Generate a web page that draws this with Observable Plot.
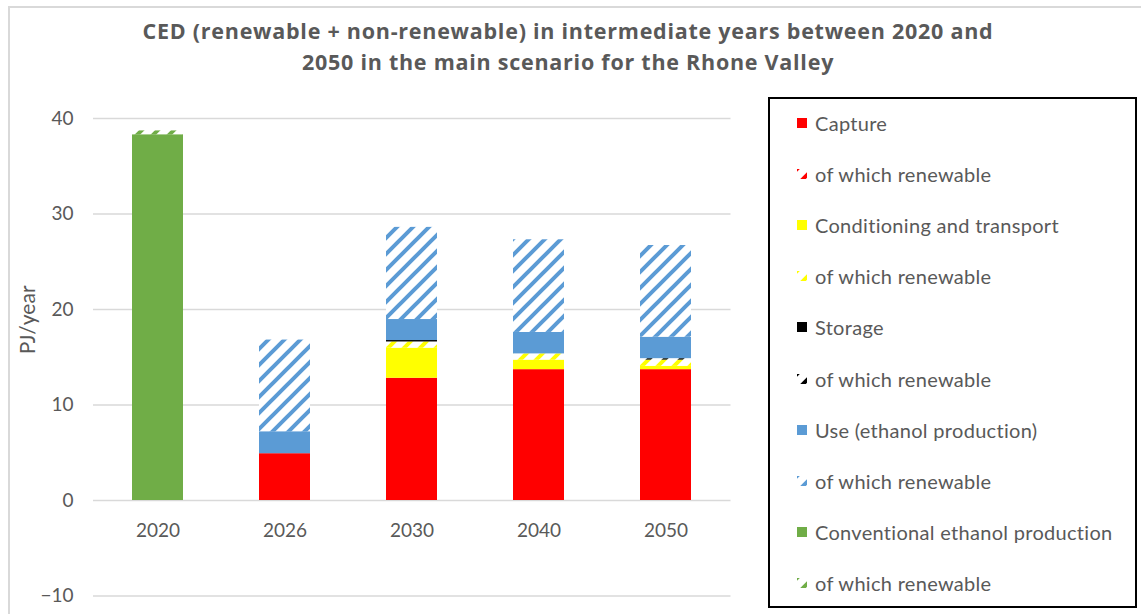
<!DOCTYPE html>
<html>
<head>
<meta charset="utf-8">
<script src="https://cdn.jsdelivr.net/npm/d3@7"></script>
<script src="https://cdn.jsdelivr.net/npm/@observablehq/plot@0.6"></script>
<style>
  html, body { margin: 0; padding: 0; background: #fff; }
  #wrap { position: relative; width: 1141px; height: 614px; overflow: hidden; font-family: Lato, "Open Sans", sans-serif; }
  #frame { position: absolute; left: 8px; top: 6px; width: 1200px; height: 700px; border: 2px solid #d9d9d9; box-sizing: border-box; }
  #title { position: absolute; left: 68px; width: 1000px; top: 15px; text-align: center; font-family: "Open Sans", Lato, sans-serif; font-weight: bold; font-size: 21.5px; letter-spacing: 0.75px; line-height: 31px; color: #595959; }
  #chart { position: absolute; left: 0; top: 0; }
  #legend { position: absolute; left: 768px; top: 97px; width: 369px; height: 511px; border: 2px solid #000; box-sizing: border-box; background: #fff; }
  .item { position: absolute; left: 27px; height: 24px; display: flex; align-items: center; font-size: 20px; letter-spacing: 0.3px; color: #595959; white-space: nowrap; }
  .item svg { margin-right: 8px; }
</style>
</head>
<body>
<svg width="0" height="0" style="position:absolute">
  <defs id="patterns"></defs>
</svg>
<div id="wrap">
  <div id="frame"></div>
  <div id="chart"></div>
  <div id="title">CED (renewable + non-renewable) in intermediate years between 2020 and<br>2050 in the main scenario for the Rhone Valley</div>
  <div id="legend"></div>
</div>
<script>
// ---- data ----
const years = ["2020", "2026", "2030", "2040", "2050"];
const seriesKeys = ["capture", "captureRen", "cond", "condRen", "storage", "storageRen", "use", "useRen", "conv", "convRen"];
const seriesLabels = ["Capture", "of which renewable", "Conditioning and transport", "of which renewable", "Storage", "of which renewable", "Use (ethanol production)", "of which renewable", "Conventional ethanol production", "of which renewable"];
const seriesColors = ["#ff0000", "#ff0000", "#ffff00", "#ffff00", "#000000", "#000000", "#5b9bd5", "#5b9bd5", "#70ad47", "#70ad47"];
const seriesHatched = [false, true, false, true, false, true, false, true, false, true];

const capture    = [0, 4.9, 12.8, 13.7, 13.7];
const captureRen = [0, 0, 0, 0, 0];
const cond       = [0, 0, 3.15, 1.0, 0.35];
const condRen    = [0, 0, 0.65, 0.65, 0.65];
const storage    = [0, 0, 0.15, 0, 0];
const storageRen = [0, 0, 0, 0, 0.15];
const use        = [0, 2.3, 2.2, 2.25, 2.25];
const useRen     = [0, 9.6, 9.65, 9.7, 9.6];
const conv       = [38.3, 0, 0, 0, 0];
const convRen    = [0.4, 0, 0, 0, 0];
const seriesValues = [capture, captureRen, cond, condRen, storage, storageRen, use, useRen, conv, convRen];

const yTicks = [-10, 0, 10, 20, 30, 40];

// ---- patterns ----
const defs = document.getElementById("patterns");
const NS = "http://www.w3.org/2000/svg";
function fillFor(i) {
  return seriesHatched[i] ? `url(#hatch-${seriesKeys[i]})` : seriesColors[i];
}
seriesKeys.forEach((k, i) => {
  if (!seriesHatched[i]) return;
  const p = document.createElementNS(NS, "pattern");
  p.setAttribute("id", `hatch-${k}`);
  p.setAttribute("patternUnits", "userSpaceOnUse");
  p.setAttribute("width", 16);
  p.setAttribute("height", 16);
  const bg = document.createElementNS(NS, "rect");
  bg.setAttribute("width", 16); bg.setAttribute("height", 16); bg.setAttribute("fill", "#fff");
  p.appendChild(bg);
  const path = document.createElementNS(NS, "path");
  path.setAttribute("d", "M-4,4L4,-4M0,16L16,0M12,20L20,12");
  path.setAttribute("stroke", seriesColors[i]);
  path.setAttribute("stroke-width", 4);
  p.appendChild(path);
  defs.appendChild(p);
});

// ---- rows ----
const rows = [];
seriesKeys.forEach((k, i) => {
  years.forEach((yr, j) => {
    const v = seriesValues[i][j];
    if (v > 0) rows.push({year: yr, key: k, value: v, fill: fillFor(i)});
  });
});

const chart = Plot.plot({
  width: 1141,
  height: 614,
  marginLeft: 93,
  marginRight: 410.5,
  marginTop: 118,
  marginBottom: 18.5,
  style: {fontFamily: "Lato, 'Open Sans', sans-serif", background: "transparent", overflow: "visible"},
  x: {domain: years, paddingInner: 0.6, paddingOuter: 0.3, axis: null},
  y: {domain: [-10, 40], axis: null},
  color: {type: "identity"},
  marks: [
    Plot.ruleY(yTicks, {stroke: "#d9d9d9", strokeWidth: 1.5}),
    Plot.axisY({ticks: yTicks, tickSize: 0, tickPadding: 20, fontSize: 19, fill: "#595959", label: null}),
    Plot.barY(rows, Plot.stackY({x: "year", y: "value", z: "key", fill: "fill", order: null})),
    Plot.text(years, {x: d => d, y: 0, dy: 30, fontSize: 19, fill: "#595959", lineAnchor: "middle"}),
    Plot.text(["PJ/year"], {frameAnchor: "left", dx: -65, dy: -3, rotate: -90, fontSize: 21, fill: "#595959"})
  ]
});
document.getElementById("chart").appendChild(chart);

// ---- legend ----
const legend = document.getElementById("legend");
seriesKeys.forEach((k, i) => {
  const div = document.createElement("div");
  div.className = "item";
  div.style.top = (12 + i * 51.1) + "px";
  div.innerHTML = `<svg width="10" height="10"><rect width="10" height="10" fill="${fillFor(i)}"></rect></svg><span>${seriesLabels[i]}</span>`;
  legend.appendChild(div);
});
</script>
</body>
</html>
